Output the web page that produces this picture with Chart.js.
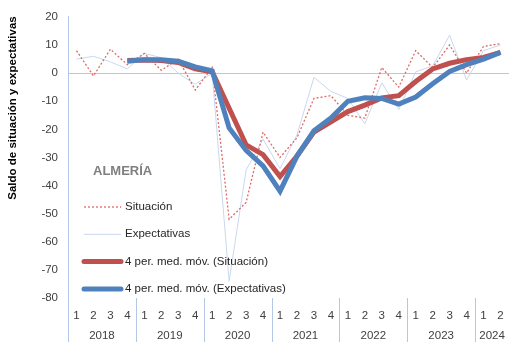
<!DOCTYPE html>
<html>
<head>
<meta charset="utf-8">
<script src="https://cdn.jsdelivr.net/npm/chart.js@4.4.1/dist/chart.umd.min.js"></script>
<style>
  html, body { margin: 0; padding: 0; background: #fff; }
  canvas { display: block; }
</style>
</head>
<body>
<canvas id="grafico" width="509" height="342"></canvas>
<script>
// trimestres 2018T1 .. 2024T2
const trimestres = ['1','2','3','4', '1','2','3','4', '1','2','3','4', '1','2','3','4',
                    '1','2','3','4', '1','2','3','4', '1','2'];
const anios      = ['2018', '2019', '2020', '2021', '2022', '2023', '2024'];
const trimPorAnio = [4, 4, 4, 4, 4, 4, 2];

const situacion    = [8, -1, 8.5, 3, 7, 1, 5, -6, 2, -52, -46, -21, -30, -23, -9, -8,
                      -15, -16, 2, -5, 8, 2, 10, 0, 9.5, 10.5];
const expectativas = [5, 6, 4, 1.5, 7, 5.5, 0, -4, 0, -74, -34.5, -23.5, -34, -22, -1.5, -6.5,
                      -9, -18, -3.5, -13, 0.5, 2.5, 13.5, -2.5, 8, 10];
const mmSituacion    = [null, null, null, 4.5, 4.7, 4.5, 3.8, 1.5, 0.5, -12.5, -25.5, -29, -36.8, -29.5, -21, -17.3,
                        -13.7, -11.4, -8.8, -8, -3, 1.5, 3.5, 4.8, 5.6, 7.4];
const mmExpectativas = [null, null, null, 4.2, 4.8, 4.8, 4.2, 2.2, 0.8, -19.5, -27.5, -33, -42, -29.5, -20.5, -16,
                        -10, -8.8, -9, -11, -8.5, -3.8, 0.6, 3, 5, 7.4];

const FONT   = 'Liberation Sans, Arial, sans-serif';
const EJE    = '#b4c7e7';
const TEXTO  = '#404040';
const ROJO   = '#c0504d';
const AZUL   = '#4f81bd';
const ROJO_P = '#e06a66';
const AZUL_P = '#c9d8ee';

const leyenda = [
  { texto: 'Situación', color: ROJO_P, ancho: 1.3, dash: [2, 2] },
  { texto: 'Expectativas', color: AZUL_P, ancho: 1, dash: [] },
  { texto: '4 per. med. móv. (Situación)', color: ROJO, ancho: 5, dash: [] },
  { texto: '4 per. med. móv. (Expectativas)', color: AZUL, ancho: 5, dash: [] }
];

const decorado = {
  id: 'decorado',
  afterDatasetsDraw(chart) {
    const ctx = chart.ctx;
    ctx.save();
    ctx.fillStyle = '#7f7f7f';
    ctx.font = 'bold 13px ' + FONT;
    ctx.textBaseline = 'middle';
    ctx.fillText('ALMERÍA', 93, 171);

    ctx.font = '11.5px ' + FONT;
    leyenda.forEach((it, i) => {
      const y = 207 + i * 27.3;
      ctx.beginPath();
      ctx.strokeStyle = it.color;
      ctx.lineWidth = it.ancho;
      ctx.lineCap = it.ancho > 2 ? 'round' : 'butt';
      ctx.setLineDash(it.dash);
      ctx.moveTo(84, y);
      ctx.lineTo(121, y);
      ctx.stroke();
      ctx.setLineDash([]);
      ctx.fillStyle = '#262626';
      ctx.fillText(it.texto, 125, y);
    });
    ctx.restore();
  },
  afterDraw(chart) {
    const ctx = chart.ctx;
    const x = chart.scales.x;
    const area = chart.chartArea;
    const paso = (x.right - x.left) / trimestres.length;
    ctx.save();
    // separadores de año y etiquetas
    ctx.strokeStyle = EJE;
    ctx.lineWidth = 1;
    ctx.fillStyle = TEXTO;
    ctx.font = '11.5px ' + FONT;
    ctx.textAlign = 'center';
    ctx.textBaseline = 'middle';
    let k = 0;
    anios.forEach((a, i) => {
      const x0 = x.left + k * paso;
      ctx.beginPath();
      ctx.moveTo(Math.round(x0) + 0.5, area.bottom);
      ctx.lineTo(Math.round(x0) + 0.5, chart.height);
      ctx.stroke();
      const c = (x.getPixelForValue(k) + x.getPixelForValue(k + trimPorAnio[i] - 1)) / 2;
      ctx.fillText(a, c, 336);
      k += trimPorAnio[i];
    });
    // título eje Y
    ctx.translate(13, 108);
    ctx.rotate(-Math.PI / 2);
    ctx.fillStyle = '#000';
    ctx.font = 'bold 11.5px ' + FONT;
    ctx.fillText('Saldo de situación y expectativas', 0, 0);
    ctx.restore();
  }
};

new Chart(document.getElementById('grafico'), {
  type: 'line',
  data: {
    labels: trimestres,
    datasets: [
      { label: '4 per. med. móv. (Expectativas)', data: mmExpectativas, borderColor: AZUL, borderWidth: 5 },
      { label: '4 per. med. móv. (Situación)', data: mmSituacion, borderColor: ROJO, borderWidth: 5 },
      { label: 'Situación', data: situacion, borderColor: ROJO_P, borderWidth: 1.3, borderDash: [2, 2] },
      { label: 'Expectativas', data: expectativas, borderColor: AZUL_P, borderWidth: 1 }
    ]
  },
  options: {
    responsive: false,
    animation: false,
    layout: { padding: { top: 14, left: 0, right: 0, bottom: 0 } },
    elements: { point: { radius: 0 }, line: { tension: 0, fill: false } },
    plugins: { legend: { display: false }, tooltip: { enabled: false } },
    scales: {
      x: {
        offset: true,
        grid: { display: false, offset: true },
        border: { display: false },
        ticks: { color: TEXTO, font: { family: FONT, size: 11.5 }, padding: 3, maxRotation: 0, autoSkip: false },
        afterFit(s) { s.height = 44; }
      },
      y: {
        min: -80, max: 20,
        ticks: { stepSize: 10, color: TEXTO, padding: 10, font: { family: FONT, size: 11.5 } },
        grid: { drawTicks: false, color: c => c.tick && c.tick.value === 0 ? EJE : 'rgba(0,0,0,0)' },
        border: { color: EJE },
        afterFit(s) { s.width = 68; }
      }
    }
  },
  plugins: [decorado]
});
</script>
</body>
</html>
